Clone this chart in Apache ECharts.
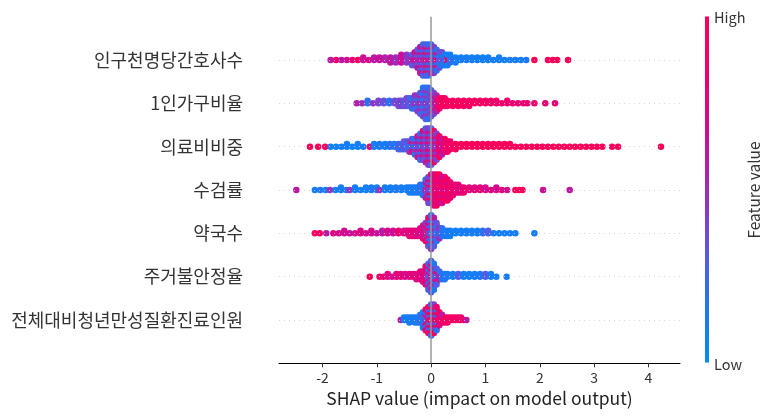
<!DOCTYPE html>
<html>
<head>
<meta charset="utf-8">
<script src="https://cdn.jsdelivr.net/npm/echarts@6/dist/echarts.min.js"></script>
<style>
html, body { margin: 0; padding: 0; background: #fff; }
#chart { width: 773px; height: 420px; }
</style>
</head>
<body>
<div id="chart"></div>
<script>
// feature names, top row first
const features = ["인구천명당간호사수", "1인가구비율", "의료비비중", "수검률", "약국수", "주거불안정율", "전체대비청년만성질환진료인원"];
const xTicks = [-2, -1, 0, 1, 2, 3, 4];

// each entry: [shap value, dots piled at that value, feature value 0..1, second feature value mixed in (optional)]
const nurse = [[-1.85,1,0.6],[-1.75,1,0.85],[-1.65,1,0.6],[-1.55,1,0.7],[-1.45,1,0.8],[-1.35,1,0.9],[-1.25,2,0.65],[-1.15,1,0.7],[-1.05,2,0.6],[-0.95,2,0.65],[-0.85,2,0.55],[-0.75,3,0.6],[-0.65,3,0.5],[-0.55,4,0.65],[-0.45,4,0.45],[-0.35,5,0.6,0.3],[-0.3,6,0.4,0.75],[-0.25,8,0.6,0.3],[-0.2,11,0.3,0.65],[-0.15,13,0.55,0.25],[-0.1,13,0.3,0.9],[-0.05,13,0.6,0.2],[0,12,0.25,0.55],[0.05,11,0.45,0.15],[0.1,9,0.2,0.85],[0.15,7,0.35,0.1],[0.2,6,0.15,0.4],[0.25,5,0.25,0.1],[0.3,5,0.1,0.9],[0.35,4,0.2,0.1],[0.45,3,0.12],[0.55,2,0.1],[0.65,2,0.12],[0.75,2,0.1],[0.85,2,0.1],[0.95,2,0.1],[1.05,2,0.1],[1.15,1,0.1],[1.25,2,0.1],[1.35,1,0.1],[1.45,1,0.12],[1.55,1,0.1],[1.65,1,0.1],[1.75,1,0.15],[1.9,1,0.95],[2.15,1,0.95],[2.24,1,0.95],[2.32,1,0.95],[2.52,1,0.95]];
const single = [[-1.37,1,0.55],[-1.27,1,0.5],[-1.17,2,0.2],[-1.07,1,0.45],[-0.97,2,0.4],[-0.87,2,0.35],[-0.77,2,0.2],[-0.67,2,0.4],[-0.6,3,0.35],[-0.55,3,0.45],[-0.5,3,0.3],[-0.45,4,0.4],[-0.4,4,0.3],[-0.35,5,0.4,0.2],[-0.3,6,0.25,0.5],[-0.25,7,0.45,0.15],[-0.2,9,0.3,0.55],[-0.15,12,0.4,0.1],[-0.1,13,0.25,0.5],[-0.05,13,0.45,0.2],[0,11,0.5,0.3],[0.05,9,0.65,0.4],[0.1,7,0.8,0.55],[0.15,5,0.88],[0.2,4,0.92],[0.25,4,0.9],[0.3,3,0.93],[0.4,3,0.92],[0.5,3,0.93],[0.6,3,0.92],[0.7,3,0.9],[0.8,2,0.92],[0.9,2,0.88],[1.0,2,0.9],[1.1,2,0.88],[1.2,2,0.85],[1.3,1,0.85],[1.4,2,0.85],[1.5,1,0.82],[1.6,1,0.8],[1.7,1,0.85],[1.77,1,0.8],[1.9,1,0.85],[2.1,1,0.8],[2.28,1,0.8]];
const medical = [[-2.23,1,0.95],[-2.08,1,0.95],[-1.95,1,0.9],[-1.85,1,0.1],[-1.75,1,0.05],[-1.65,1,0.1],[-1.55,2,0.1],[-1.45,1,0.05],[-1.35,2,0.1],[-1.25,1,0.1],[-1.13,1,0.8],[-1.05,2,0.1],[-0.95,2,0.15],[-0.85,2,0.1],[-0.76,2,0.2],[-0.68,2,0.15],[-0.6,3,0.3],[-0.55,3,0.2],[-0.5,4,0.35],[-0.45,4,0.25],[-0.4,5,0.45,0.1],[-0.35,6,0.3,0.8],[-0.3,7,0.5,0.15],[-0.25,9,0.35,0.7],[-0.2,11,0.55,0.2],[-0.15,12,0.4,0.8],[-0.1,14,0.55,0.25],[-0.05,15,0.45,0.85],[0,15,0.6,0.3],[0.05,13,0.5,0.9],[0.1,11,0.65,0.4],[0.15,9,0.75,0.95],[0.2,7,0.8,0.6],[0.25,6,0.9,0.7],[0.3,5,0.88],[0.35,4,0.9],[0.45,3,0.92],[0.55,2,0.95],[0.65,2,0.95],[0.75,2,0.95],[0.85,2,0.95],[0.95,2,0.95],[1.05,2,0.95],[1.15,2,0.95],[1.25,2,0.95],[1.35,2,0.95],[1.45,2,0.95],[1.55,1,0.95],[1.65,1,0.95],[1.75,1,0.95],[1.85,1,0.95],[1.95,1,0.95],[2.05,1,0.95],[2.15,1,0.95],[2.25,1,0.95],[2.35,1,0.95],[2.45,1,0.95],[2.55,1,0.95],[2.65,1,0.95],[2.75,1,0.95],[2.85,1,0.95],[2.95,1,0.95],[3.05,1,0.95],[3.15,1,0.95],[3.33,1,0.95],[3.44,1,0.95],[4.23,1,0.95]];
const checkup = [[-2.48,1,0.6],[-2.14,1,0.1],[-2.04,1,0.15],[-1.94,1,0.1],[-1.86,1,0.5],[-1.76,1,0.1],[-1.66,2,0.1],[-1.56,1,0.15],[-1.5,1,0.45],[-1.4,2,0.1],[-1.3,1,0.1],[-1.2,2,0.1],[-1.1,2,0.15],[-1.0,2,0.1],[-0.95,1,0.5],[-0.85,2,0.1],[-0.75,2,0.1],[-0.65,2,0.15],[-0.55,2,0.1],[-0.45,2,0.1],[-0.4,3,0.12],[-0.35,3,0.1],[-0.3,3,0.15],[-0.25,3,0.1],[-0.2,4,0.2],[-0.15,5,0.15],[-0.1,8,0.2,0.6],[-0.05,11,0.4,0.85],[0,12,0.75,0.3],[0.05,13,0.9,0.65],[0.1,13,0.95,0.7],[0.15,12,0.8,0.95],[0.2,11,0.92,0.65],[0.25,10,0.85,0.95],[0.3,9,0.9,0.7],[0.35,7,0.85,0.95],[0.4,5,0.8],[0.45,4,0.85],[0.5,4,0.8],[0.55,3,0.75],[0.6,3,0.85],[0.7,2,0.8],[0.8,2,0.75],[0.9,2,0.8],[1.0,2,0.7],[1.1,1,0.75],[1.2,2,0.7],[1.3,1,0.75],[1.4,1,0.7],[1.55,1,0.95],[1.62,1,0.95],[1.68,1,0.95],[2.06,1,0.65],[2.55,1,0.6]];
const pharmacy = [[-2.14,1,0.9],[-2.05,1,0.9],[-1.93,1,0.6],[-1.8,1,0.75],[-1.7,1,0.7],[-1.6,2,0.7],[-1.5,1,0.65],[-1.4,1,0.7],[-1.3,2,0.75],[-1.2,1,0.7],[-1.1,2,0.7],[-1.0,1,0.65],[-0.9,2,0.6],[-0.8,2,0.7],[-0.7,2,0.65],[-0.6,2,0.85],[-0.5,2,0.7],[-0.45,2,0.75],[-0.4,3,0.8],[-0.35,3,0.75],[-0.3,3,0.85],[-0.25,3,0.7],[-0.2,4,0.75],[-0.15,6,0.6,0.85],[-0.1,8,0.45,0.9],[-0.05,12,0.35,0.85],[0,14,0.45,0.2],[0.05,12,0.3,0.6],[0.1,8,0.35,0.15],[0.15,5,0.25,0.5],[0.2,4,0.2],[0.25,3,0.15],[0.3,3,0.15],[0.35,3,0.1],[0.45,2,0.1],[0.55,2,0.1],[0.65,2,0.1],[0.75,2,0.12],[0.85,2,0.1],[0.95,2,0.2],[1.05,2,0.3],[1.15,1,0.15],[1.25,1,0.1],[1.35,1,0.1],[1.45,1,0.1],[1.55,1,0.1],[1.9,1,0.1]];
const housing = [[-1.13,1,0.95],[-0.95,1,0.85],[-0.88,1,0.8],[-0.8,2,0.75],[-0.72,1,0.7],[-0.64,2,0.75],[-0.56,2,0.8],[-0.48,2,0.7],[-0.4,2,0.75],[-0.33,2,0.8],[-0.27,3,0.75],[-0.2,4,0.8],[-0.15,5,0.7],[-0.1,8,0.75,0.9],[-0.05,11,0.6,0.25],[0,13,0.8,0.3],[0.05,11,0.5,0.15],[0.1,7,0.3,0.8],[0.15,4,0.25,0.6],[0.2,3,0.2],[0.25,3,0.15],[0.3,2,0.15],[0.4,2,0.1],[0.5,2,0.3],[0.6,2,0.1],[0.7,2,0.1],[0.8,2,0.1],[0.9,2,0.15],[1.0,2,0.3],[1.1,2,0.1],[1.2,1,0.1],[1.39,1,0.1]];
const youth = [[-0.56,1,0.6],[-0.5,2,0.1],[-0.45,2,0.1],[-0.4,3,0.12],[-0.35,2,0.1],[-0.3,3,0.15],[-0.25,3,0.1],[-0.2,4,0.2],[-0.15,7,0.3,0.1],[-0.1,9,0.2,0.85],[-0.05,11,0.3,0.9],[0,13,0.9,0.25],[0.05,12,0.4,0.95],[0.1,10,0.85,0.2],[0.15,6,0.75,0.95],[0.2,4,0.85,0.6],[0.25,3,0.85],[0.3,3,0.9],[0.35,2,0.9],[0.4,2,0.9],[0.45,2,0.85],[0.5,2,0.9],[0.55,2,0.85],[0.6,1,0.9],[0.65,1,0.6]];

const rows = [nurse, single, medical, checkup, pharmacy, housing, youth];
const colorStops = ['#008bfb', '#2076f3', '#6055e0', '#a02cb8', '#cf0c94', '#ec0070', '#ff0052'];
const font = '"Noto Sans CJK KR", "Noto Sans", sans-serif';

// pile the dots of one value up and down around the row line
function swarm(bins, row) {
    const pts = [];
    bins.forEach(([x, n, v, w], j) => {
        for (let k = 0; k < n; k++) {
            const level = (k + 1) >> 1;
            const off = level * (k % 2 ? 1 : -1) * 0.06;
            const c = (w !== undefined && (level + j) % 2 === 1) ? w : v;
            pts.push([x, row + off, c]);
        }
    });
    return pts;
}

const topRow = features.length - 1;
const dots = rows.flatMap((bins, i) => swarm(bins, topRow - i));

const myChart = echarts.init(document.getElementById('chart'));
const option = {
    animation: false,
    textStyle: { fontFamily: font },
    grid: { left: 279, right: 93, top: 16.7, bottom: 56.7, outerBoundsMode: 'none' },
    xAxis: {
        type: 'value',
        min: -2.8,
        max: 4.58,
        name: 'SHAP value (impact on model output)',
        nameLocation: 'middle',
        nameGap: 26,
        nameTextStyle: { fontSize: 17.5, color: '#222', fontFamily: font },
        axisLine: { onZero: false, lineStyle: { color: '#000', width: 1 } },
        axisTick: { customValues: xTicks, length: 4, lineStyle: { color: '#333' } },
        axisLabel: { customValues: xTicks, fontSize: 14, color: '#333', margin: 7, fontFamily: font },
        splitLine: { show: false }
    },
    yAxis: {
        type: 'value',
        min: -1,
        max: 7,
        interval: 1,
        axisLine: { show: false },
        axisTick: { show: false },
        splitLine: { show: false },
        axisLabel: {
            margin: 36,
            fontSize: 18,
            color: '#333',
            fontFamily: font,
            formatter: v => (v >= 0 && v <= topRow) ? features[topRow - v] : ''
        }
    },
    visualMap: {
        show: false,
        type: 'continuous',
        seriesIndex: 1,
        dimension: 2,
        min: 0,
        max: 1,
        inRange: { color: colorStops }
    },
    series: [
        {
            type: 'scatter',
            data: [],
            z: 1,
            markLine: {
                silent: true,
                symbol: ['none', 'none'],
                label: { show: false },
                data: features.map((f, i) => ({ yAxis: i, lineStyle: { color: '#ccc', type: [1, 4], width: 0.8 } }))
                    .concat([{ xAxis: 0, lineStyle: { color: '#999', type: 'solid', width: 1.5 } }])
            }
        },
        {
            type: 'scatter',
            z: 2,
            symbol: 'circle',
            symbolSize: 6.5,
            itemStyle: { opacity: 1 },
            data: dots
        }
    ],
    graphic: [
        {
            type: 'rect',
            shape: { x: 705, y: 16.5, width: 4, height: 346 },
            style: {
                fill: {
                    type: 'linear', x: 0, y: 0, x2: 0, y2: 1,
                    colorStops: colorStops.slice().reverse().map((c, i, a) => ({ offset: i / (a.length - 1), color: c }))
                }
            }
        },
        { type: 'text', x: 714, y: 17, style: { text: 'High', fill: '#333', font: '14.5px ' + font, verticalAlign: 'middle' } },
        { type: 'text', x: 714, y: 364, style: { text: 'Low', fill: '#333', font: '14.5px ' + font, verticalAlign: 'middle' } },
        { type: 'text', x: 754, y: 190, rotation: Math.PI / 2, style: { text: 'Feature value', fill: '#333', font: '15.5px ' + font, align: 'center', verticalAlign: 'middle' } }
    ]
};
myChart.setOption(option);
</script>
</body>
</html>
